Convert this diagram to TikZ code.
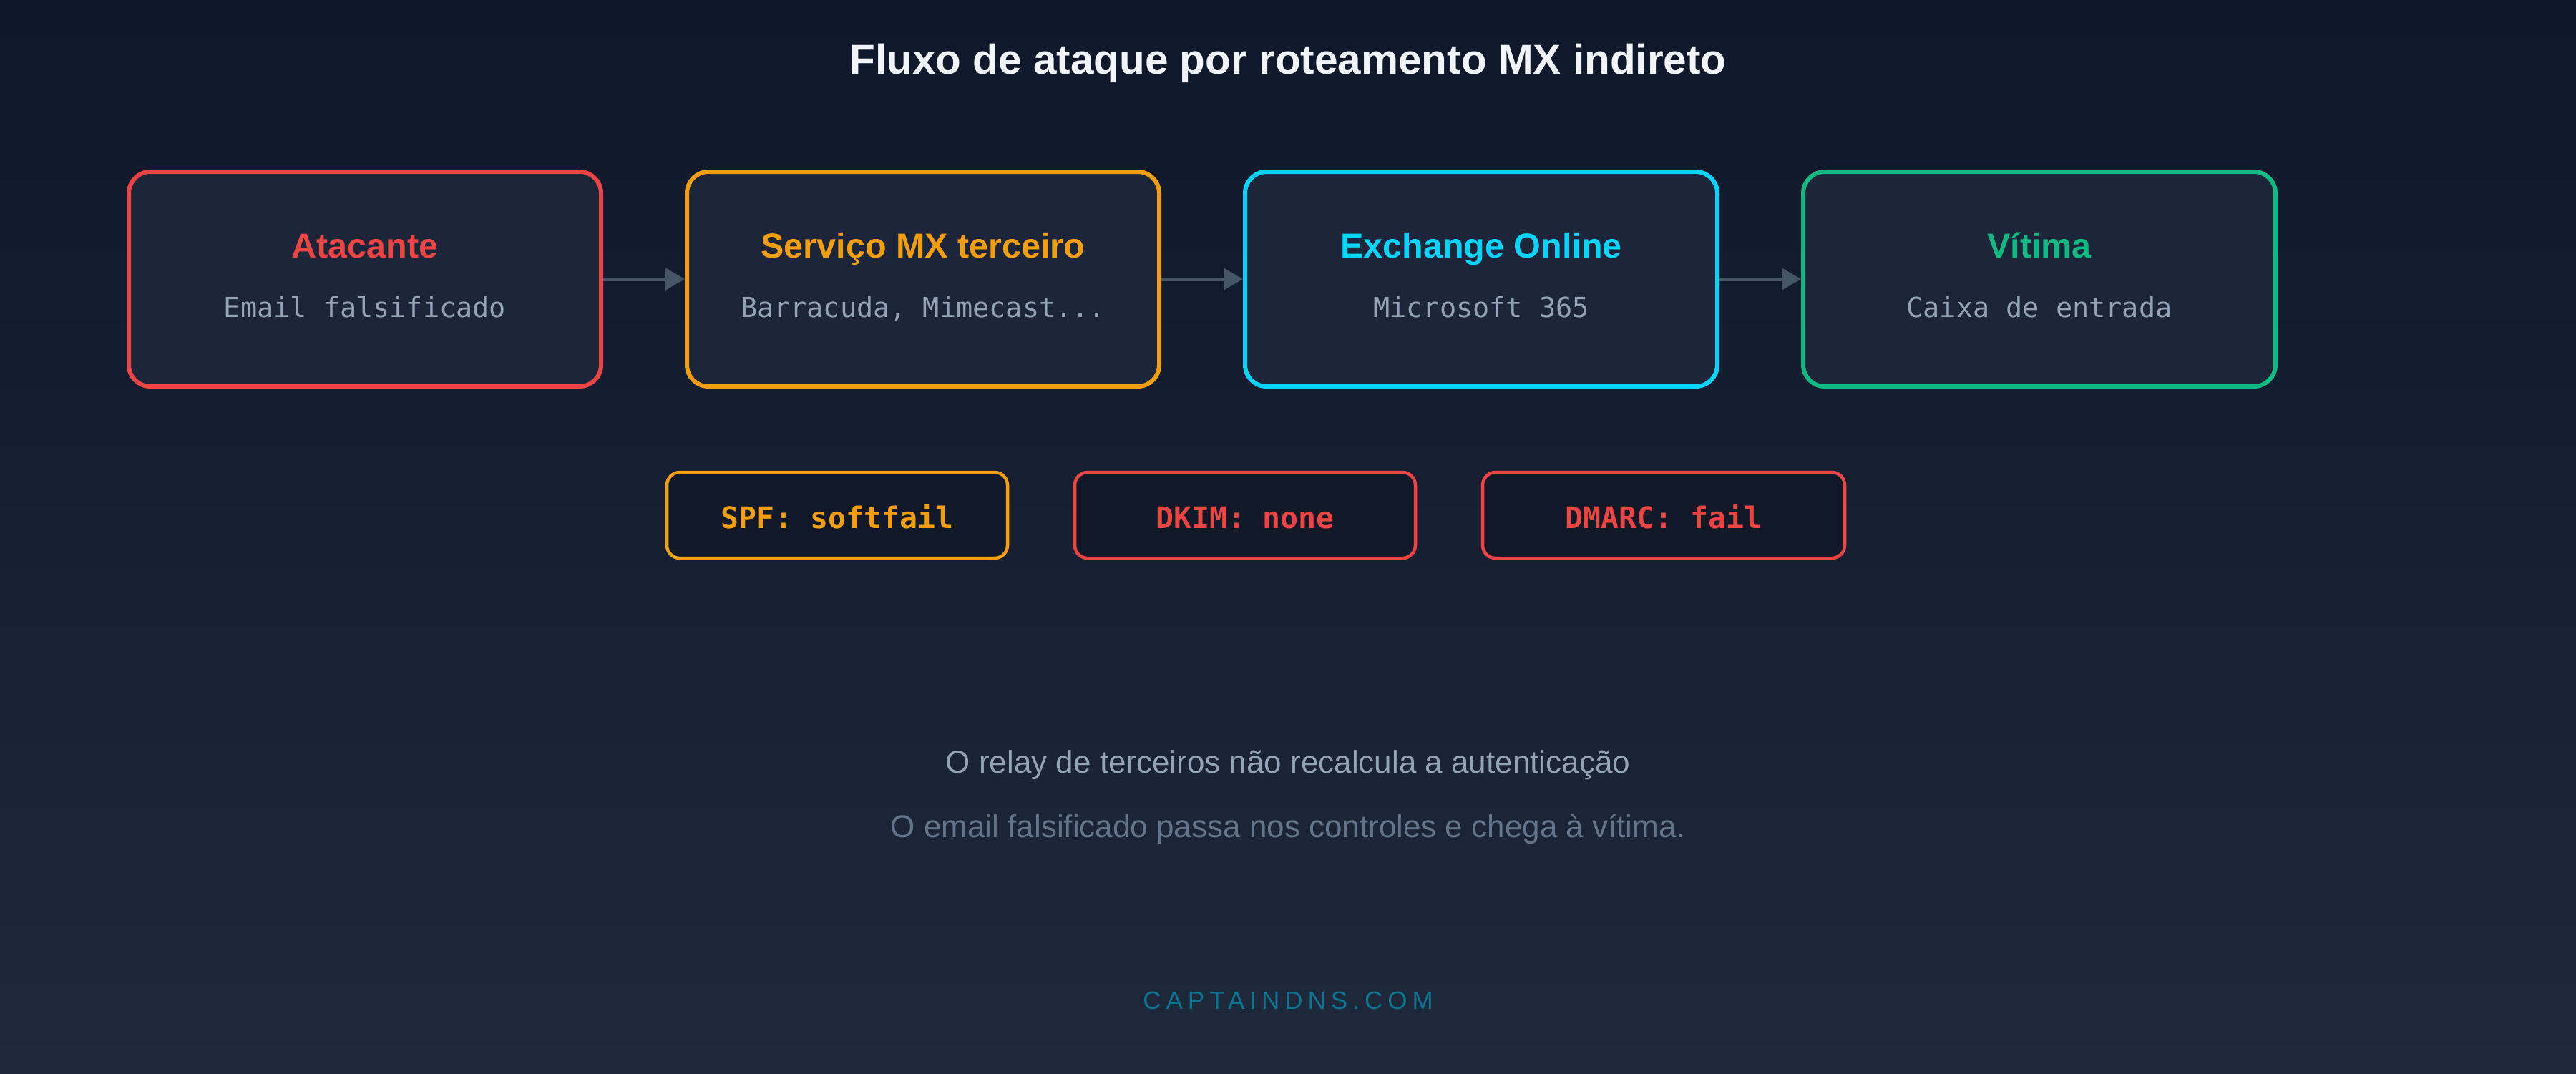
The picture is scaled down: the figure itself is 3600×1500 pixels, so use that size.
\documentclass[tikz,border=0pt]{standalone}
\usepackage{fontspec}
\setmainfont{Liberation Sans}
\newfontfamily\monof{DejaVu Sans Mono}
\newfontfamily\spacedf[LetterSpace=20]{Liberation Sans}
\usetikzlibrary{arrows.meta}
\definecolor{bgtop}{HTML}{0F172A}
\definecolor{bgbot}{HTML}{1E293B}
\definecolor{cardfill}{HTML}{1C2539}
\definecolor{badgefill}{HTML}{111827}
\definecolor{cred}{HTML}{EF4444}
\definecolor{camber}{HTML}{F59E0B}
\definecolor{ccyan}{HTML}{00D4FF}
\definecolor{cgreen}{HTML}{10B981}
\definecolor{subgray}{HTML}{94A3B8}
\definecolor{dimgray}{HTML}{64748B}
\definecolor{arrowgray}{HTML}{475569}
\definecolor{brand}{HTML}{0E7490}
\definecolor{titlewhite}{HTML}{F1F5F9}
\tikzset{
  card/.style={draw, line width=6pt, rounded corners=30pt, fill=cardfill,
    minimum width=660pt, minimum height=300pt, inner sep=0pt},
  badge/.style={draw, line width=4.5pt, rounded corners=18pt, fill=badgefill,
    minimum height=120pt, inner sep=0pt},
  cardtitle/.style={anchor=base, inner sep=0pt, font=\fontsize{48.5}{58}\selectfont\bfseries},
  cardsub/.style={anchor=base, inner sep=0pt, text=subgray, font=\fontsize{38.5}{46}\selectfont\monof},
  badgetext/.style={anchor=base, inner sep=0pt, font=\fontsize{41.5}{50}\selectfont\monof\bfseries},
  flow/.style={draw=arrowgray, line width=5pt, -{Triangle[length=27pt,width=30pt]}},
  note/.style={anchor=base, inner sep=0pt, font=\fontsize{44}{52}\selectfont},
}
\begin{document}
\begin{tikzpicture}[x=1pt,y=-1pt]
\shade[top color=bgtop, bottom color=bgbot] (0,0) rectangle (3600,1500);
\useasboundingbox (0,0) rectangle (3600,1500);

\node[anchor=base, inner sep=0pt, text=titlewhite, font=\fontsize{58.5}{70}\selectfont\bfseries] (title) at (1800,103) {Fluxo de ataque por roteamento MX indireto};

\node[card, draw=cred] (b1) at (510,390) {};
\node[card, draw=camber] (b2) at (1290,390) {};
\node[card, draw=ccyan] (b3) at (2070,390) {};
\node[card, draw=cgreen] (b4) at (2850,390) {};

\draw[flow] (b1.east) -- (b2.west);
\draw[flow] (b2.east) -- (b3.west);
\draw[flow] (b3.east) -- (b4.west);

\node[cardtitle, text=cred] (t1) at (510,360) {Atacante};
\node[cardsub] (s1) at (510,443) {Email falsificado};
\node[cardtitle, text=camber] (t2) at (1290,360) {Serviço MX terceiro};
\node[cardsub] (s2) at (1290,443) {Barracuda, Mimecast...};
\node[cardtitle, text=ccyan] (t3) at (2070,360) {Exchange Online};
\node[cardsub] (s3) at (2070,443) {Microsoft 365};
\node[cardtitle, text=cgreen] (t4) at (2850,360) {Vítima};
\node[cardsub] (s4) at (2850,443) {Caixa de entrada};

\node[badge, draw=camber, minimum width=476pt] (g1) at (1170,720) {};
\node[badge, draw=cred, minimum width=476pt] (g2) at (1740,720) {};
\node[badge, draw=cred, minimum width=506pt] (g3) at (2325,720) {};
\node[badgetext, text=camber] (gt1) at (1170,738) {SPF: softfail};
\node[badgetext, text=cred] (gt2) at (1740,738) {DKIM: none};
\node[badgetext, text=cred] (gt3) at (2325,738) {DMARC: fail};

\node[note, text=subgray] (n1) at (1800,1080) {O relay de terceiros não recalcula a autenticação};
\node[note, text=dimgray] (n2) at (1800,1170) {O email falsificado passa nos controles e chega à vítima.};

\node[anchor=base, inner sep=0pt, text=brand, font=\fontsize{35}{42}\selectfont\spacedf] (brand) at (1800,1410) {CAPTAINDNS.COM};
\end{tikzpicture}
\end{document}
